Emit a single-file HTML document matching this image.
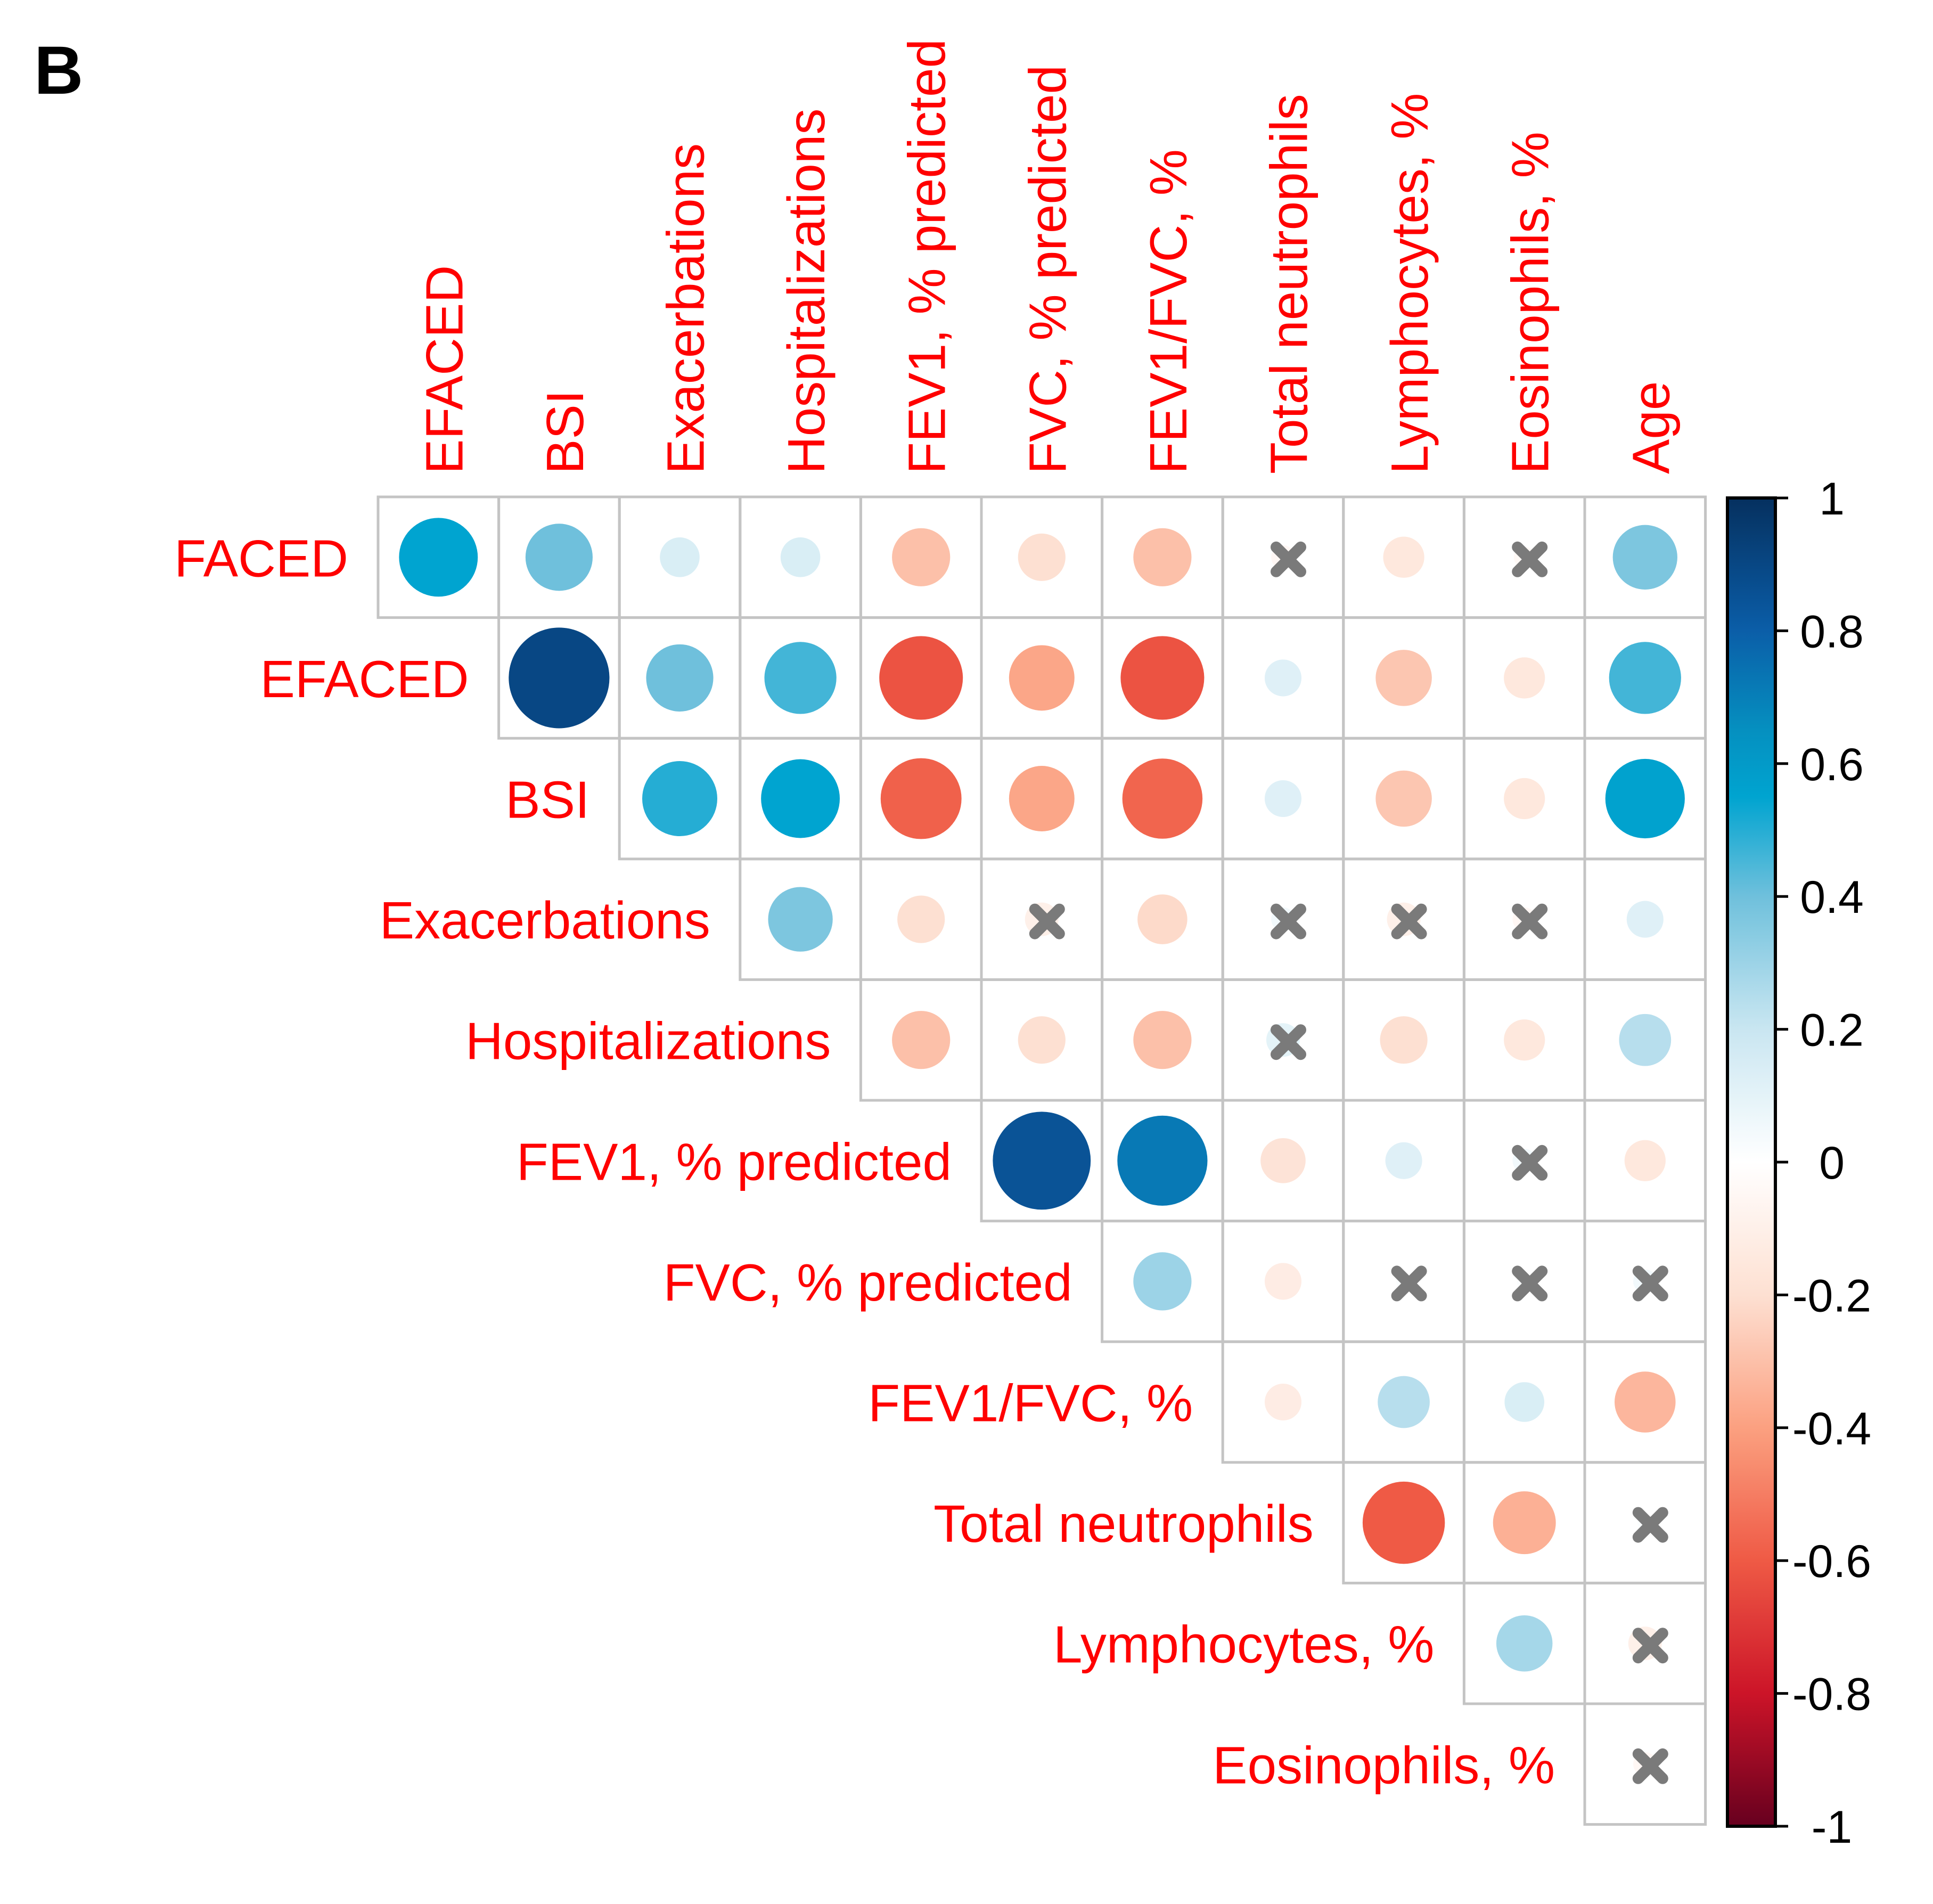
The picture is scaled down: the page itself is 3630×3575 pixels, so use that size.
<!DOCTYPE html>
<html><head><meta charset="utf-8"><style>
html,body{margin:0;padding:0;background:#fff;}
svg{display:block;}
text{font-family:"Liberation Sans",Arial,sans-serif;}
</style></head>
<body>
<svg id="chart" width="3630" height="3575" viewBox="0 0 3630 3575" xmlns="http://www.w3.org/2000/svg">
<rect width="3630" height="3575" fill="#fff"/>
<text x="64" y="176" font-size="128" font-weight="bold" fill="#000">B</text>
<g id="grid"></g>
<g id="marks"></g>
<g id="labels"></g>
<g id="legend"></g>
</svg>
<script>
const rowLabels = ["FACED","EFACED","BSI","Exacerbations","Hospitalizations","FEV1, % predicted","FVC, % predicted","FEV1/FVC, %","Total neutrophils","Lymphocytes, %","Eosinophils, %"];
const colLabels = ["EFACED","BSI","Exacerbations","Hospitalizations","FEV1, % predicted","FVC, % predicted","FEV1/FVC, %","Total neutrophils","Lymphocytes, %","Eosinophils, %","Age"];
// upper-triangle values, row i starts at column i
const corrValues = [
  [0.55,0.40,0.14,0.14,-0.30,-0.20,-0.30,-0.05,-0.15,-0.04,0.37],
  [0.90,0.40,0.46,-0.62,-0.38,-0.62,0.12,-0.28,-0.15,0.46],
  [0.50,0.55,-0.58,-0.38,-0.57,0.12,-0.28,-0.15,0.56],
  [0.37,-0.20,-0.10,-0.22,0.05,-0.10,-0.05,0.12],
  [-0.30,-0.20,-0.30,0.10,-0.20,-0.15,0.24],
  [0.85,0.72,-0.18,0.12,0.05,-0.15],
  [0.30,-0.12,0.02,0.02,0.05],
  [-0.12,0.24,0.14,-0.33],
  [-0.60,-0.35,0.02],
  [0.28,-0.10],
  [-0.05]
];
// 1 = not significant (crossed)
const insignificant = [
  [0,0,0,0,0,0,0,1,0,1,0],
  [0,0,0,0,0,0,0,0,0,0],
  [0,0,0,0,0,0,0,0,0],
  [0,0,1,0,1,1,1,0],
  [0,0,0,1,0,0,0],
  [0,0,0,0,1,0],
  [0,0,1,1,1],
  [0,0,0,0],
  [0,0,1],
  [0,1],
  [1]
];
const legendTicks = [1,0.8,0.6,0.4,0.2,0,-0.2,-0.4,-0.6,-0.8,-1];

const NS="http://www.w3.org/2000/svg";
const X0=710, Y0=933, CELL=226.6;
const xPos = c => X0 + c*CELL;
const yPos = r => Y0 + r*CELL;
const LBOT=935, LTOP=3429;
const legY = v => LTOP - (v+1)/2*(LTOP-LBOT);
const stops=[[-1,[103,0,31]],[-0.8,[204,20,40]],[-0.6,[239,90,69]],[-0.4,[251,160,128]],[-0.2,[253,224,210]],[0,[255,255,255]],[0.2,[201,230,241]],[0.4,[111,192,220]],[0.55,[0,164,208]],[0.65,[5,144,192]],[0.8,[11,94,168]],[1,[5,48,95]]];
function colorOf(v){
  for(let i=0;i<stops.length-1;i++){
    const a=stops[i],b=stops[i+1];
    if(v>=a[0]&&v<=b[0]){const t=(v-a[0])/(b[0]-a[0]);
      const c=a[1].map((x,k)=>Math.round(x+(b[1][k]-x)*t));
      return `rgb(${c[0]},${c[1]},${c[2]})`;}
  }
  return "#fff";
}
function mk(tag,attrs,parent){const e=document.createElementNS(NS,tag);for(const k in attrs)e.setAttribute(k,attrs[k]);parent.appendChild(e);return e;}
const grid=document.getElementById('grid'),marks=document.getElementById('marks'),labels=document.getElementById('labels'),legend=document.getElementById('legend');

for(let r=0;r<corrValues.length;r++){
  for(let k=0;k<corrValues[r].length;k++){
    const c=r+k, v=corrValues[r][k];
    const cell=mk('rect',{x:xPos(c),y:yPos(r),width:CELL,height:CELL,fill:'none',stroke:'#c4c4c4','stroke-width':5},grid);
    
    
    const cx=xPos(c)+CELL/2, cy=yPos(r)+CELL/2;
    const rad=Math.sqrt(Math.abs(v))*0.44*CELL;
    const circ=mk('circle',{cx:cx,cy:cy,r:rad,fill:colorOf(v)},marks);
    
    
    if(insignificant[r][k]){
      const g=mk('g',{stroke:'#7a7a7a','stroke-width':21,'stroke-linecap':'round'},marks);
      
      
      const ox=cx+10, oy=cy+4, s=23;
      mk('line',{x1:ox-s,y1:oy-s,x2:ox+s,y2:oy+s},g);
      mk('line',{x1:ox-s,y1:oy+s,x2:ox+s,y2:oy-s},g);
    }
  }
}
rowLabels.forEach((t,r)=>{
  const e=mk('text',{x:xPos(r)-56,y:yPos(r)+CELL/2+36,'font-size':98,fill:'#ff0000','text-anchor':'end'},labels);
  e.textContent=t;
  
  
});
colLabels.forEach((t,c)=>{
  const x=xPos(c)+CELL/2+10+35, y=890;
  const e=mk('text',{x:x,y:y,'font-size':98,fill:'#ff0000',transform:`rotate(-90 ${x} ${y})`},labels);
  e.textContent=t;
  
  
});
// legend
const defs=mk('defs',{},legend);
const grad=mk('linearGradient',{id:'cg',x1:0,y1:1,x2:0,y2:0},defs);
for(let i=0;i<=40;i++){const v=-1+i/20;mk('stop',{offset:(i/40),'stop-color':colorOf(v)},grad);}
const bar=mk('rect',{x:3244,y:LBOT,width:90,height:LTOP-LBOT,fill:'url(#cg)',stroke:'#000','stroke-width':6},legend);


legendTicks.forEach(v=>{
  const y=legY(v);
  const tk=mk('line',{x1:3334,y1:y,x2:3358,y2:y,stroke:'#000','stroke-width':5},legend);
  
  
  const e=mk('text',{x:3440,y:y+31,'font-size':86,fill:'#000','text-anchor':'middle'},legend);
  e.textContent=String(v);
  
  
});
</script>
</body></html>
